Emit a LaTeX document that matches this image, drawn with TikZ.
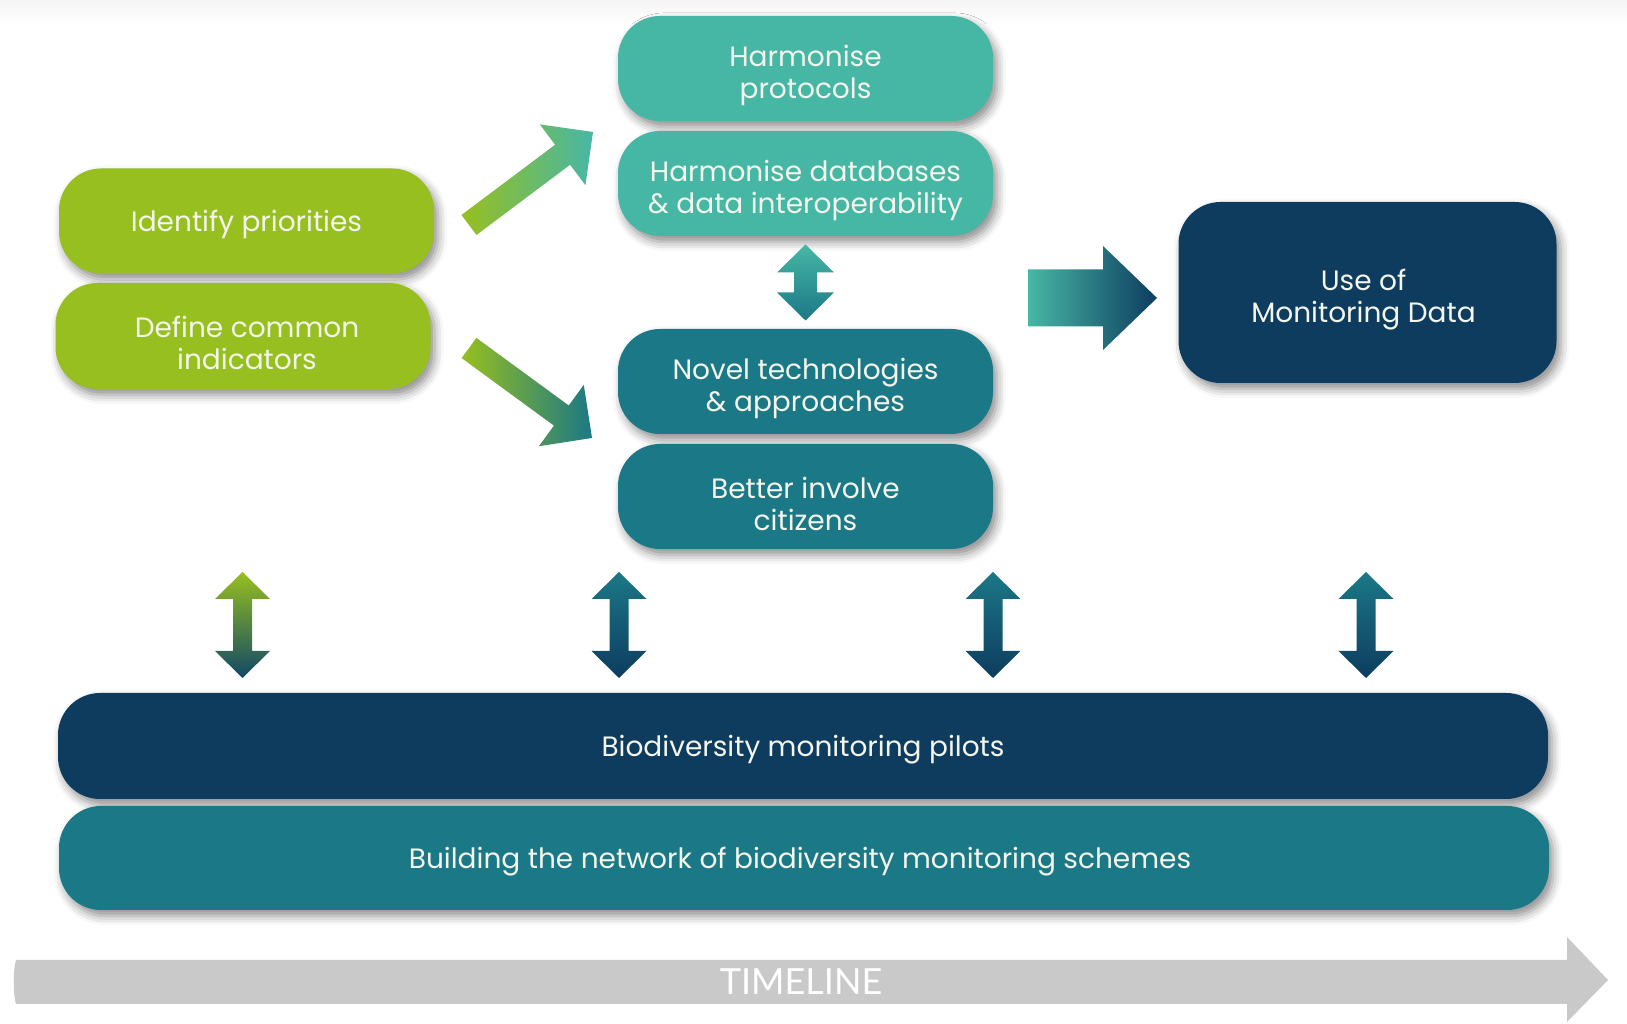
\documentclass[tikz,border=0pt]{standalone}
\usepackage{fontspec}
\newfontfamily\boxfont{Poppins}
\newfontfamily\tlfont{Lato}
\usetikzlibrary{shadows.blur,calc}
\definecolor{cgreen}{HTML}{97BF1F}
\definecolor{cteal}{HTML}{47B7A5}
\definecolor{cmid}{HTML}{1B7886}
\definecolor{cnavy}{HTML}{0D3C5F}
\definecolor{cgray}{HTML}{C9C9C9}
\definecolor{ctext}{HTML}{F4F6EC}
\tikzset{
  box/.style={rounded corners=42pt, minimum width=375pt, minimum height=105pt,
    inner sep=0pt,
    blur shadow={shadow xshift=4pt, shadow yshift=-6pt, shadow blur radius=9pt, shadow opacity=45}},
  boxtext/.style={text=ctext, align=center, inner sep=0pt, yshift=-3.5pt,
    font=\boxfont\fontsize{28}{32}\selectfont},
  twoline/.style={boxtext, yshift=-3.5pt},
  greenbox/.style={box, fill=cgreen},
  tealbox/.style={box, fill=cteal},
  midbox/.style={box, fill=cmid},
  navybox/.style={box, fill=cnavy},
}
% single block arrow from coordinate #2 to #3 (rotated)
\newcommand{\blockarrow}[6]{%
  \pgfpointdiff{\pgfpointanchor{#2}{center}}{\pgfpointanchor{#3}{center}}%
  \pgfgetlastxy{\bax}{\bay}%
  \pgfmathsetmacro\barlen{veclen(\bax,\bay)}%
  \pgfmathsetmacro\barang{atan2(\bay,\bax)}%
  \path[#1, shift={(#2)}, rotate=\barang] (0,-#4) -- ({\barlen-#6},-#4) -- ({\barlen-#6},-#5)
    -- (\barlen,0) -- ({\barlen-#6},#5) -- ({\barlen-#6},#4) -- (0,#4) -- cycle;
}
% vertical double block arrow centred on coordinate #2
% #3 half length, #4 half shaft, #5 half head, #6 head length
\newcommand{\vdouble}[6]{%
  \path[#1, shift={(#2)}] (0,#3) -- (#5,{#3-#6}) -- (#4,{#3-#6}) -- (#4,{-#3+#6}) -- (#5,{-#3+#6})
    -- (0,-#3) -- (-#5,{-#3+#6}) -- (-#4,{-#3+#6}) -- (-#4,{#3-#6}) -- (-#5,{#3-#6}) -- cycle;
}
\begin{document}
\begin{tikzpicture}[x=1pt,y=1pt]
\useasboundingbox (0,0) rectangle (1627,1024);
\fill[top color=black!4, bottom color=white] (0,1000) rectangle (1627,1024);

% timeline
\coordinate (tl1) at (1608,44);
\fill[cgray] (16,20) .. controls (13,30) and (13,54) .. (16,64) -- (1567,64) -- (1567,87) -- (tl1) -- (1567,2) -- (1567,20) -- cycle;
\node[text=white, font=\tlfont\fontsize{36}{40}\selectfont] (tl) at (801,42) {TIMELINE};

% boxes
\node[greenbox] (ident) at (246.5,803) {};
\node[greenbox, minimum height=106pt] (define) at (243,688) {};
\node[tealbox] (hp) at (805.5,955.5) {};
\node[tealbox] (hd) at (805.5,840.5) {};
\node[midbox] (novel) at (805.5,642.5) {};
\node[midbox] (better) at (805.5,527.5) {};
\node[navybox, minimum width=378pt, minimum height=181pt] (use) at (1367.5,731.5) {};
\node[box, fill=cnavy, minimum width=1490pt, minimum height=106pt] (pilots) at (803,278) {};
\node[box, fill=cmid, minimum width=1490pt, minimum height=104pt] (building) at (804,166) {};

% box texts
\node[boxtext] (ident-t) at (ident.center) {Identify priorities};
\node[twoline] (define-t) at ([xshift=4pt]define.center) {Define common\\indicators};
\node[twoline] (hp-t) at (hp.center) {Harmonise\\protocols};
\node[twoline] (hd-t) at (hd.center) {Harmonise databases\\\& data interoperability};
\node[twoline] (novel-t) at (novel.center) {Novel technologies\\\& approaches};
\node[twoline] (better-t) at (better.center) {Better involve\\citizens};
\node[twoline] (use-t) at ([xshift=-4pt]use.center) {Use of\\Monitoring Data};
\node[boxtext] (pilots-t) at (pilots.center) {Biodiversity monitoring pilots};
\node[boxtext] (building-t) at ([xshift=-4pt]building.center) {Building the network of biodiversity monitoring schemes};

% diagonal arrows
\coordinate (a1s) at (469,799);
\coordinate (a1e) at (593,892);
\coordinate (a2s) at (469,676);
\coordinate (a2e) at (592,586);
\blockarrow{left color=cgreen, right color=cteal}{a1s}{a1e}{12.5}{38}{38}
\blockarrow{left color=cgreen, right color=cmid}{a2s}{a2e}{12.5}{38}{38}

% middle double arrow between hd and novel
\coordinate (m1) at ($(hd.south)!0.5!(novel.north)$);
\vdouble{top color=cteal, bottom color=cmid}{m1}{38}{11.5}{28.5}{28}

% big right arrow towards use
\coordinate (ra) at (1028,726);
\path[left color=cteal, right color=cnavy, shift={(ra)}] (0,-28.5) -- (75,-28.5) -- (75,-52) -- (129,0) -- (75,52) -- (75,28.5) -- (0,28.5) -- cycle;

% vertical double arrows to pilots
\coordinate (v1) at (242.5,399);
\coordinate (v2) at (619,399);
\coordinate (v3) at (993,399);
\coordinate (v4) at (1366,399);
\vdouble{top color=cgreen, bottom color=cnavy!80!cmid}{v1}{53}{9.5}{27.5}{27}
\vdouble{top color=cmid, bottom color=cnavy}{v2}{53}{9.5}{27.5}{27}
\vdouble{top color=cmid, bottom color=cnavy}{v3}{53}{9.5}{27.5}{27}
\vdouble{top color=cmid, bottom color=cnavy}{v4}{53}{9.5}{27.5}{27}
\end{tikzpicture}
\end{document}
